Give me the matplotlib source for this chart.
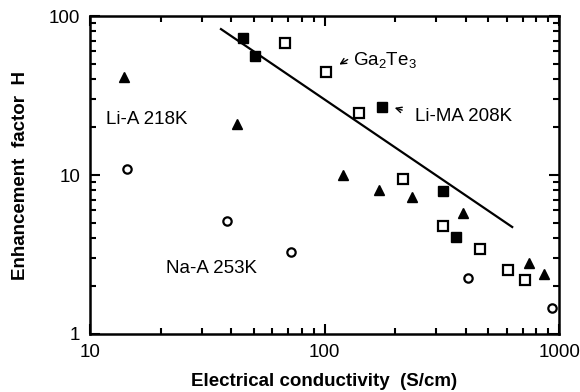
import matplotlib
matplotlib.use("Agg")
import matplotlib.pyplot as plt
from matplotlib.ticker import LogLocator, NullFormatter, FixedLocator, FixedFormatter

plt.rcParams["font.family"] = ["Liberation Sans", "DejaVu Sans"]
plt.rcParams["mathtext.fontset"] = "custom"
plt.rcParams["mathtext.rm"] = "Liberation Sans"
plt.rcParams["mathtext.it"] = "Liberation Sans"

# Li-MA 208K (filled squares)
lima_x = [44.9, 50.5, 175.8, 320, 364]
lima_y = [72.7, 56.0, 26.8, 7.93, 4.07]

# Ga2Te3 (open squares)
gate_x = [67.9, 101.5, 140, 216, 320, 460, 606, 716]
gate_y = [67.6, 44.4, 24.5, 9.44, 4.78, 3.42, 2.53, 2.19]

# Li-A 218K (filled triangles)
lia_x = [14.0, 42.4, 120, 170.7, 236, 390, 745, 863]
lia_y = [41.3, 20.9, 10.0, 8.05, 7.27, 5.77, 2.80, 2.38]

# Na-A 253K (open circles)
naa_x = [14.4, 38.4, 71.9, 409, 933]
naa_y = [10.9, 5.14, 3.28, 2.25, 1.46]

# fitted line
fit_x = [36.2, 631]
fit_y = [82.8, 4.71]

fig = plt.figure(figsize=(5.8, 3.92), dpi=100)
ax = fig.add_axes([0.155, 0.148, 0.809, 0.811])

ax.plot(fit_x, fit_y, color="black", lw=1.6)
ax.plot(lima_x, lima_y, "s", ms=7.5, mfc="black", mec="black")
ax.plot(gate_x, gate_y, "s", ms=6.5, mfc="white", mec="black", mew=1.6)
ax.plot(lia_x, lia_y, "^", ms=7.5, mfc="black", mec="black")
ax.plot(naa_x, naa_y, "o", ms=6, mfc="white", mec="black", mew=1.6)

ax.set_xscale("log")
ax.set_yscale("log")
ax.set_xlim(10, 1000)
ax.set_ylim(1, 100)

ax.xaxis.set_major_locator(FixedLocator([10, 100, 1000]))
ax.xaxis.set_major_formatter(FixedFormatter(["10", "100", "1000"]))
ax.yaxis.set_major_locator(FixedLocator([1, 10, 100]))
ax.yaxis.set_major_formatter(FixedFormatter(["1", "10", "100"]))
ax.xaxis.set_minor_locator(LogLocator(base=10, subs=range(2, 10)))
ax.yaxis.set_minor_locator(LogLocator(base=10, subs=range(2, 10)))
ax.xaxis.set_minor_formatter(NullFormatter())
ax.yaxis.set_minor_formatter(NullFormatter())

ax.tick_params(which="both", direction="in", top=True, right=True, width=1.5)
ax.tick_params(which="major", length=7, labelsize=13.5, pad=7)
ax.tick_params(which="minor", length=4)
for sp in ax.spines.values():
    sp.set_linewidth(1.8)

ax.set_xlabel("Electrical conductivity  (S/cm)", fontsize=13.5, fontweight="bold", labelpad=9)
ax.set_ylabel("Enhancement  factor  H", fontsize=13.5, fontweight="bold", labelpad=14)

ax.text(11.7, 22.2, "Li-A 218K", fontsize=13.5, va="center")
ax.text(21.1, 2.6, "Na-A 253K", fontsize=13.5, va="center")
ax.text(132, 53, "Ga$_2$Te$_3$", fontsize=13.5, va="center")
ax.text(243, 23.2, "Li-MA 208K", fontsize=13.5, va="center")

ax.annotate("", xy=(113, 48.5), xytext=(128.5, 54.4),
            arrowprops=dict(arrowstyle="->", lw=1.0, color="black"))
ax.annotate("", xy=(194, 26.8), xytext=(220, 25.3),
            arrowprops=dict(arrowstyle="->", lw=1.0, color="black"))

fig.savefig("out.png", dpi=100)
